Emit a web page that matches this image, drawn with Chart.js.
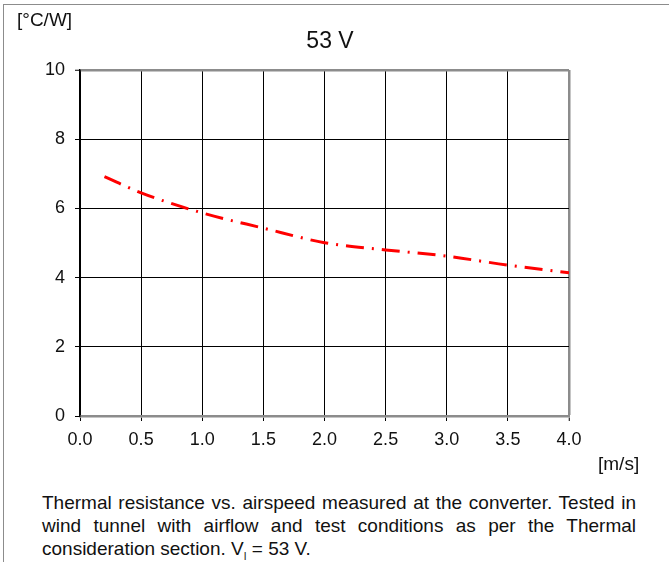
<!DOCTYPE html>
<html lang="en">
<head>
<meta charset="UTF-8">
<title>Thermal resistance vs. airspeed, 53 V</title>
<script src="https://cdn.jsdelivr.net/npm/chart.js@4.4.0/dist/chart.umd.min.js"></script>
<style>
    body { margin: 0; background: #fff; font-family: "Liberation Sans", Arial, sans-serif; }
    #page { position: relative; width: 669px; height: 562px; overflow: hidden; }
    #frame {
        position: absolute; left: 3px; top: 4px; width: 666px; height: 558px;
        border-left: 1px solid #8c8c8c; border-top: 1px solid #8c8c8c;
    }
    #chart { position: absolute; left: 0; top: 0; }
    #caption {
        position: absolute; left: 42px; top: 491px; width: 594px;
        font-size: 19px; line-height: 23px; color: #111; text-align: justify;
    }
</style>
</head>
<body>
<div id="page">
    <div id="frame"></div>
    <canvas id="chart" width="669" height="480"></canvas>
    <div id="caption">Thermal resistance vs. airspeed measured at the converter. Tested in wind tunnel with airflow and test conditions as per the Thermal consideration section. V<sub style="font-size:10px">I</sub> = 53 V.</div>
</div>
<script>
    // airspeed [m/s] and thermal resistance [°C/W]
    const speeds = [0.2, 0.5, 1.0, 1.5, 2.0, 2.5, 3.0, 3.5, 4.0];
    const resistance = [6.92, 6.45, 5.87, 5.43, 5.01, 4.80, 4.62, 4.36, 4.14];

    const titleText = '53 V';
    const yUnit = '[°C/W]';
    const xUnit = '[m/s]';

    const FONT = '"Liberation Sans", Arial, sans-serif';

    // title and unit labels sit outside the normal axis title slots
    const labelsPlugin = {
        id: 'labels',
        afterDraw(chart) {
            const c = chart.ctx;
            const a = chart.chartArea;
            c.save();
            c.fillStyle = '#111';
            c.textBaseline = 'middle';
            c.font = '19px ' + FONT;
            c.textAlign = 'left';
            c.fillText(yUnit, 17, 21);
            c.fillText(xUnit, a.right + 29, 465);
            c.font = '23px ' + FONT;
            c.textAlign = 'center';
            c.fillText(titleText, 330, 42);
            c.restore();
        }
    };

    new Chart(document.getElementById('chart'), {
        type: 'line',
        data: {
            datasets: [{
                data: speeds.map((s, i) => ({ x: s, y: resistance[i] })),
                borderColor: '#ff0000',
                borderWidth: 3,
                borderDash: [18, 8, 2, 8],
                borderCapStyle: 'butt',
                pointRadius: 0,
                cubicInterpolationMode: 'monotone',
                fill: false
            }]
        },
        options: {
            responsive: false,
            animation: false,
            layout: { padding: { top: 70, right: 100, bottom: 0, left: 0 } },
            plugins: { legend: { display: false }, tooltip: { enabled: false } },
            scales: {
                x: {
                    type: 'linear',
                    min: 0, max: 4,
                    afterFit: s => { s.height = 64; },
                    ticks: {
                        stepSize: 0.5,
                        padding: 8,
                        color: '#111',
                        font: { family: FONT, size: 18 },
                        callback: v => v.toFixed(1)
                    },
                    grid: {
                        color: ctx => ctx.tick && ctx.tick.value === 4 ? '#8c8c8c' : '#000',
                        lineWidth: ctx => ctx.tick && ctx.tick.value === 4 ? 2.5 : 1,
                        tickColor: '#000',
                        tickWidth: 1,
                        tickLength: 5
                    },
                    border: { color: '#8c8c8c', width: 2.5 }
                },
                y: {
                    min: 0, max: 10,
                    afterFit: s => { s.width = 80; },
                    ticks: {
                        stepSize: 2,
                        padding: 10,
                        color: '#111',
                        font: { family: FONT, size: 18 }
                    },
                    grid: {
                        color: ctx => ctx.tick && ctx.tick.value === 10 ? '#8c8c8c' : '#000',
                        lineWidth: ctx => ctx.tick && ctx.tick.value === 10 ? 2.5 : 1,
                        tickColor: '#000',
                        tickWidth: 1,
                        tickLength: 5
                    },
                    border: { color: '#000', width: 1.5 }
                }
            }
        },
        plugins: [labelsPlugin]
    });
</script>
</body>
</html>
